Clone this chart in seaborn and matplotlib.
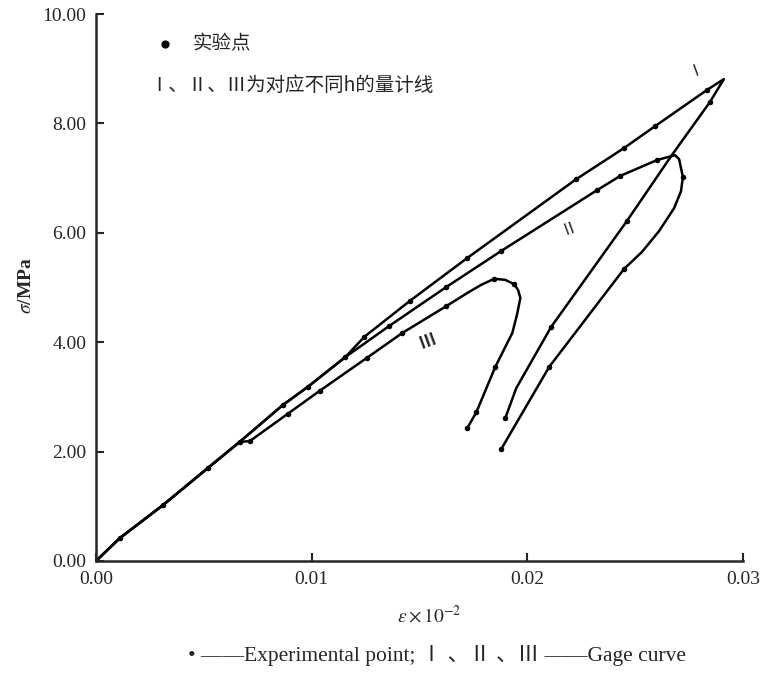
import numpy as np
import pandas as pd
import matplotlib
matplotlib.use("Agg")
import matplotlib.pyplot as plt
import seaborn as sns

# ---- data (strain eps, stress sigma in MPa) ----
eps_1 = [0.0, 0.00111, 0.00310, 0.00519, 0.00667, 0.00866, 0.00981, 0.01157, 0.01245,
         0.01454, 0.01722, 0.02227, 0.02449, 0.02593, 0.02833, 0.02912,
         0.02847, 0.02667, 0.02463, 0.02111, 0.01949, 0.01898]
sig_1 = [0.0, 0.42, 1.02, 1.70, 2.18, 2.85, 3.18, 3.73, 4.10,
         4.75, 5.54, 6.98, 7.55, 7.95, 8.61, 8.81,
         8.39, 7.40, 6.22, 4.28, 3.16, 2.61]

eps_2 = [0.0, 0.00111, 0.00310, 0.00519, 0.00667, 0.00866, 0.00981, 0.01157,
         0.01361, 0.01625, 0.01880, 0.02324, 0.02431, 0.02602, 0.02685, 0.02704,
         0.02722, 0.02713, 0.02681, 0.02611, 0.02532, 0.02449, 0.02102, 0.01880]
sig_2 = [0.0, 0.42, 1.02, 1.70, 2.18, 2.85, 3.18, 3.73,
         4.30, 5.01, 5.67, 6.78, 7.04, 7.33, 7.42, 7.35,
         7.02, 6.76, 6.45, 6.03, 5.65, 5.34, 3.55, 2.05]

eps_3 = [0.0, 0.00111, 0.00310, 0.00519, 0.00667, 0.00713, 0.00889, 0.01037, 0.01255,
         0.01421, 0.01625, 0.01722, 0.01787, 0.01847, 0.01898, 0.01940, 0.01958, 0.01968,
         0.01954, 0.01931, 0.01852, 0.01764, 0.01722]
sig_3 = [0.0, 0.42, 1.02, 1.70, 2.18, 2.19, 2.69, 3.11, 3.71,
         4.17, 4.66, 4.90, 5.05, 5.16, 5.14, 5.06, 4.95, 4.81,
         4.53, 4.17, 3.55, 2.72, 2.43]

# experimental points (dots)
exp_eps = [0.00111, 0.00310, 0.00519, 0.00667, 0.00866, 0.00981, 0.01157, 0.01245, 0.01454,
           0.01722, 0.02227, 0.02449, 0.02593, 0.02833, 0.02847, 0.02463, 0.02111, 0.01898,
           0.01361, 0.01625, 0.01880, 0.02324, 0.02431, 0.02602, 0.02722, 0.02449, 0.02102, 0.01880,
           0.00713, 0.00889, 0.01037, 0.01255, 0.01421, 0.01625, 0.01847, 0.01940, 0.01852,
           0.01764, 0.01722]
exp_sig = [0.42, 1.02, 1.70, 2.18, 2.85, 3.18, 3.73, 4.10, 4.75,
           5.54, 6.98, 7.55, 7.95, 8.61, 8.39, 6.22, 4.28, 2.61,
           4.30, 5.01, 5.67, 6.78, 7.04, 7.33, 7.02, 5.34, 3.55, 2.05,
           2.19, 2.69, 3.11, 3.71, 4.17, 4.66, 5.16, 5.06, 3.55,
           2.72, 2.43]

x_ticks = [0.00, 0.01, 0.02, 0.03]
x_ticklabels = ["0.00", "0.01", "0.02", "0.03"]
y_ticks = [0, 2, 4, 6, 8, 10]
y_ticklabels = ["0.00", "2.00", "4.00", "6.00", "8.00", "10.00"]

curve_names = ["Ⅰ", "Ⅱ", "Ⅲ"]

# ---- build long table ----
frames = []
for name, e, s in zip(curve_names, [eps_1, eps_2, eps_3], [sig_1, sig_2, sig_3]):
    frames.append(pd.DataFrame({"eps": e, "sig": s, "curve": name, "order": range(len(e))}))
df = pd.concat(frames, ignore_index=True)
pts = pd.DataFrame({"eps": exp_eps, "sig": exp_sig})

sns.set_style("ticks")
plt.rcParams["font.family"] = ["Liberation Serif", "Noto Sans CJK SC", "DejaVu Sans"]
plt.rcParams["mathtext.fontset"] = "stix"
plt.rcParams["xtick.direction"] = "in"
plt.rcParams["ytick.direction"] = "in"

fig = plt.figure(figsize=(7.71, 6.88), dpi=100)
ax = fig.add_axes([0.1245, 0.1846, 0.839, 0.795])

for name in curve_names:
    sub = df[df["curve"] == name]
    sns.lineplot(data=sub, x="eps", y="sig", sort=False, estimator=None,
                 color="black", linewidth=1.8, ax=ax, legend=False)
sns.scatterplot(data=pts, x="eps", y="sig", color="black", s=16, linewidth=0,
                ax=ax, legend=False, zorder=3)

ax.set_xlim(0, 0.03)
ax.set_ylim(0, 10)
ax.set_xticks(x_ticks)
ax.set_xticklabels(x_ticklabels, fontsize=14)
ax.set_yticks(y_ticks)
ax.set_yticklabels(y_ticklabels, fontsize=14)
ax.tick_params(axis="both", length=6, width=1.5, pad=7)
ax.set_xlabel("")
ax.set_ylabel("")
for sp in ["top", "right"]:
    ax.spines[sp].set_visible(False)
for sp in ["left", "bottom"]:
    ax.spines[sp].set_linewidth(1.8)

# curve labels
ax.text(0.02782, 8.99, "Ⅰ", fontsize=12, ha="center", va="center", rotation=20)
ax.text(0.02194, 6.09, "Ⅱ", fontsize=12, ha="center", va="center", rotation=20)
ax.text(0.01537, 4.00, "Ⅲ", fontsize=12, ha="center", va="center", rotation=20, fontweight="bold")

# in-plot legend text
ax.scatter([0.00319], [9.45], color="black", s=24, zorder=3)
ax.text(0.00449, 9.45, "实验点", fontsize=14, ha="left", va="center",
        family=["Noto Sans CJK SC", "DejaVu Sans"])
ax.text(0.00245, 8.70, "Ⅰ、Ⅱ、Ⅲ为对应不同h的量计线", fontsize=14, ha="left", va="center",
        family=["Noto Sans CJK SC", "DejaVu Sans"])

# axis labels and caption
fig.text(0.034, 1 - 286 / 688, r"$\sigma$/MPa", rotation=90, fontsize=14,
         fontweight="bold", ha="center", va="center")
fig.text(0.557, 1 - 616 / 688, r"$\varepsilon\times10^{-2}$", fontsize=14,
         ha="center", va="center")
fig.text(0.567, 1 - 655 / 688, "• ——Experimental point; Ⅰ 、Ⅱ 、Ⅲ ——Gage curve",
         fontsize=15.5, ha="center", va="center")

fig.savefig("out.png", dpi=100)
